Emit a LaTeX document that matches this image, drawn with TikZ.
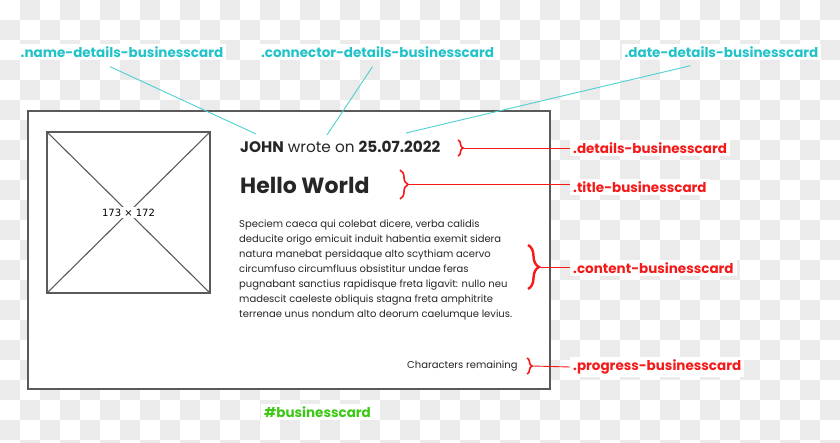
\documentclass[tikz,border=0pt]{standalone}
\usepackage{fontspec}
\setmainfont{Poppins}
\newfontfamily\dimfont{DejaVu Sans}
\usetikzlibrary{calc,decorations.pathreplacing}
\definecolor{checkgray}{HTML}{EBEBEB}
\definecolor{cardline}{HTML}{5A5A5A}
\definecolor{labelcyan}{HTML}{22C3C8}
\definecolor{labelred}{HTML}{F51A1A}
\definecolor{labelgreen}{HTML}{3CC814}
\tikzset{
  cardbox/.style={draw=cardline, line width=1.3pt, fill=white},
  imgbox/.style={draw=cardline, line width=1.1pt},
  cardtext/.style={anchor=west, inner sep=0pt, text=black!85},
  cyanlabel/.style={fill=white, text=labelcyan, inner sep=3pt, font=\bfseries\fontsize{13.5}{14}\selectfont},
  redlabel/.style={fill=white, text=labelred, anchor=west, inner sep=3pt, font=\bfseries\fontsize{13.5}{14}\selectfont},
  greenlabel/.style={fill=white, text=labelgreen, inner sep=3pt, font=\bfseries\fontsize{13.5}{14}\selectfont},
  cyanline/.style={draw=labelcyan!80, line width=0.9pt},
  redline/.style={draw=labelred, line width=0.9pt},
  redbrace/.style={draw=labelred, line width=1.6pt, decorate, decoration={brace, amplitude=#1}},
}

\begin{document}
\begin{tikzpicture}[x=1pt, y=-1pt]
  \useasboundingbox (0,0) rectangle (840,443);
  % transparent background
  \begin{scope}
    \clip (0,0) rectangle (840,443);
    \foreach \j in {0,...,22}
      \foreach \i in {0,...,20}
        \fill[checkgray] ({40*\i+20*mod(\j+1,2)},{20*\j}) rectangle ++(20,20);
  \end{scope}

  % the card
  \draw[cardbox] (28,111) rectangle (550,389);
  \draw[imgbox] (47,132) rectangle (210,293);
  \draw[imgbox] (47,132) -- (210,293);
  \draw[imgbox] (47,293) -- (210,132);
  \node[fill=white, inner sep=2pt, font=\dimfont\fontsize{10}{10}\selectfont] (imgsize) at (128.5,212.5) {173 × 172};

  \node[cardtext, font=\fontsize{15.3}{15}\selectfont] (details) at (240,147) {\textbf{JOHN} wrote on \textbf{25.07.2022}};
  \node[cardtext, font=\bfseries\fontsize{22}{22}\selectfont] (title) at (240,185) {Hello World};
  \node[cardtext, anchor=north west, align=left, font=\fontsize{10}{15}\selectfont] (content) at (239,219.5) {%
    Speciem caeca qui colebat dicere, verba calidis\\
    deducite origo emicuit induit habentia exemit sidera\\
    natura manebat persidaque alto scythiam acervo\\
    circumfuso circumfluus obsistitur undae feras\\
    pugnabant sanctius rapidisque freta ligavit: nullo neu\\
    madescit caeleste obliquis stagna freta amphitrite\\
    terrenae unus nondum alto deorum caelumque levius.};
  \node[cardtext, font=\fontsize{10}{10}\selectfont] (progress) at (407,366) {Characters remaining};

  % element names
  \node[cyanlabel] (namelbl) at (122,52) {.name-details-businesscard};
  \node[cyanlabel] (connlbl) at (377.5,52) {.connector-details-businesscard};
  \node[cyanlabel] (datelbl) at (721.5,52) {.date-details-businesscard};
  \coordinate (namept) at (256,134);
  \coordinate (connpt) at (327,135);
  \coordinate (datept) at (406,133);
  \draw[cyanline] ([xshift=-12pt, yshift=-6pt]namelbl.south) -- (namept);
  \draw[cyanline] ([xshift=-5pt, yshift=-6pt]connlbl.south) -- (connpt);
  \draw[cyanline] ([xshift=-31pt, yshift=-5pt]datelbl.south) -- (datept);

  \draw[redbrace=5pt] (458,140) -- (458,156);
  \draw[redbrace=8pt] (400,170) -- (400,199);
  \draw[redbrace=11pt, line width=2.4pt] (528,245) -- (528,289);
  \draw[redbrace=5pt] (527,358) -- (527,374);
  \coordinate (detailstip) at (463,148);
  \coordinate (titletip) at (408,184.5);
  \coordinate (contenttip) at (539,267);
  \coordinate (progresstip) at (532,366);
  \node[redlabel] (detailslbl) at (570,148) {.details-businesscard};
  \node[redlabel] (titlelbl) at (570,187) {.title-businesscard};
  \node[redlabel] (contentlbl) at (570,268) {.content-businesscard};
  \node[redlabel] (progresslbl) at (570,367) {.progress-businesscard};
  \draw[redline] (detailstip) -- (detailslbl.west);
  \draw[redline] (titletip) -- (titletip -| titlelbl.west);
  \draw[redline] (contenttip) -- (contenttip -| contentlbl.west);
  \draw[redline] (progresstip) -- (progresslbl.west);

  \node[greenlabel] (cardlbl) at (317.5,412) {\#businesscard};
\end{tikzpicture}
\end{document}
